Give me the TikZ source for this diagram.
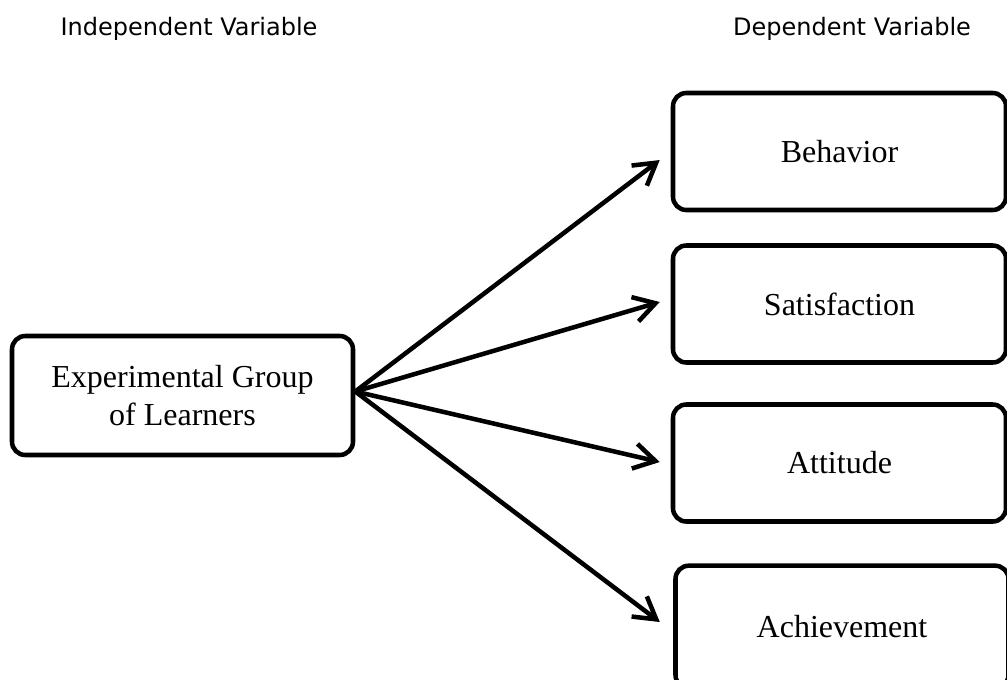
\documentclass[tikz,border=0pt]{standalone}
\usepackage{fontspec}
\setmainfont{Liberation Serif}
\newfontfamily\hdrfont{DejaVu Sans}
\usetikzlibrary{arrows.meta}
\tikzset{
  box/.style={draw, line width=3.4pt, rounded corners=10pt, inner sep=0pt, align=center,
    font=\fontsize{24}{29}\selectfont},
  rbox/.style={box, minimum width=249.75pt, minimum height=87.75pt},
  hdr/.style={anchor=base, font=\hdrfont\fontsize{18}{22}\selectfont},
  conn/.style={line width=3.4pt, -{Straight Barb[length=16pt,width=19pt]}}
}
\begin{document}
\begin{tikzpicture}[x=0.75pt,y=-0.75pt]
\useasboundingbox (0,0) rectangle (1007,679);
\node[hdr] (ih) at (189,35) {Independent Variable};
\node[hdr] (dh) at (852,35) {Dependent Variable};
\node[box, minimum width=255.75pt, minimum height=89.25pt] (src) at (182.5,395.5) {Experimental Group\\of Learners};
\node[rbox] (beh) at (839.5,151.5) {Behavior};
\node[rbox] (sat) at (839.5,304) {Satisfaction};
\node[rbox] (att) at (839.5,463) {Attitude};
\node[rbox, minimum height=92pt] (ach) at (842,627) {Achievement};
\coordinate (s) at ([yshift=3pt]src.east);
\draw[conn] (s) -- ([xshift=-8.25pt,yshift=-6.4pt]beh.west);
\draw[conn] (s) -- ([xshift=-8.25pt,yshift=1.5pt]sat.west);
\draw[conn] (s) -- ([xshift=-8.25pt,yshift=0.75pt]att.west);
\draw[conn] (s) -- ([xshift=-10.1pt,yshift=3.75pt]ach.west);
\end{tikzpicture}
\end{document}
